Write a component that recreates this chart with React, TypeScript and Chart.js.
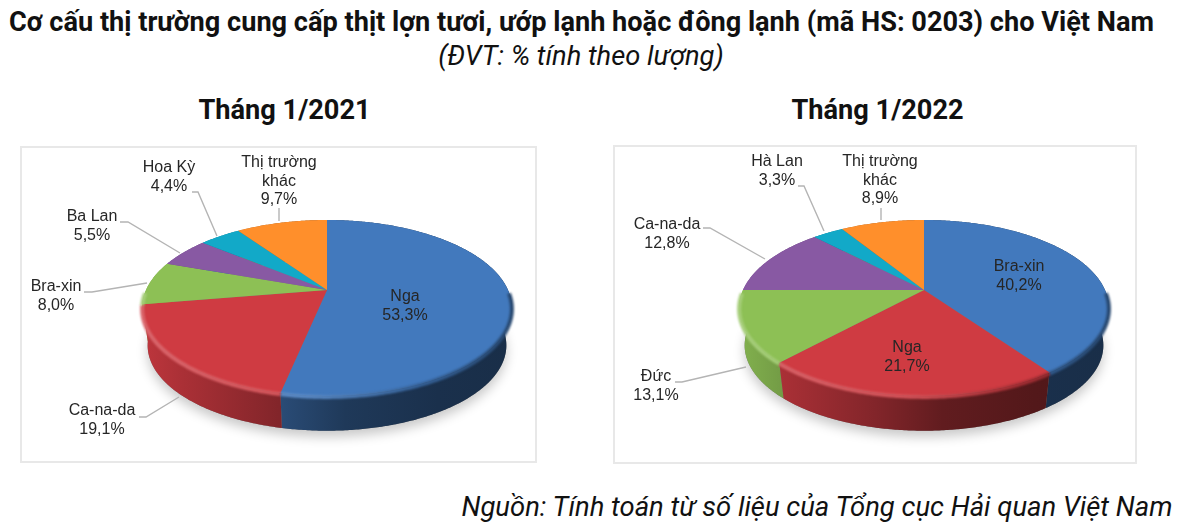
import { useEffect, useRef } from "react";
import Chart from "chart.js/auto";

const categories2021 = ["Nga", "Ca-na-da", "Bra-xin", "Ba Lan", "Hoa Kỳ", "Thị trường khác"];
const shares2021 = [53.3, 19.1, 8.0, 5.5, 4.4, 9.7];

const categories2022 = ["Bra-xin", "Nga", "Đức", "Ca-na-da", "Hà Lan", "Thị trường khác"];
const shares2022 = [40.2, 21.7, 13.1, 12.8, 3.3, 8.9];

const sliceColors = ["#4279BD", "#CF3B42", "#8DC055", "#8859A3", "#12A9C8", "#FF8F2B"];

// where the text labels sit, in page pixels (x centre, y centre of first line)
const labelSpots2021 = [[405, 297], [102, 411], [56, 287], [92, 217], [169, 168], [279, 163]];
const labelSpots2022 = [[1019, 267], [907, 348], [656, 377], [667, 225], [777, 162], [880, 162]];

const leaders2021 = [
  null,
  [[139, 417], [146, 417], [179, 397]],
  [[84, 292], [92, 292], [147, 283]],
  [[120, 222], [128, 222], [180, 253]],
  [[192, 192], [198, 192], [217, 236]],
  [[279, 208], [279, 221]],
];
const leaders2022 = [
  null,
  null,
  [[675, 382], [682, 382], [746, 367]],
  [[703, 228], [710, 228], [765, 259]],
  [[798, 186], [804, 186], [824, 231]],
  [[881, 208], [881, 220]],
];

// how the side of the pie darkens from left to right
const sideShade = [[0, 0.92], [0.11, 0.82], [0.37, 0.63], [0.55, 0.47], [0.8, 0.4], [1, 0.38]];

const TILT = 0.204; // perspective of the pie
const DEPTH = 38;
const SHRINK = 0.97;

const shade = (hex: string, f: number) => {
  const n = parseInt(hex.slice(1), 16);
  const c = [(n >> 16) & 255, (n >> 8) & 255, n & 255].map((v) =>
    f <= 1 ? Math.round(v * f) : Math.round(v + (255 - v) * (f - 1))
  );
  return `rgb(${c[0]},${c[1]},${c[2]})`;
};

const pie3d = (left: number, top: number, spots: number[][], leaders: any[]) => ({
  id: "pie3d",
  beforeDatasetsDraw(chart: any) {
    const { ctx } = chart;
    const arcs = chart.getDatasetMeta(0).data;
    const colors = chart.data.datasets[0].backgroundColor;
    const { x: cx, y: cy, outerRadius: r } = arcs[0];
    const A = (r * 181) / 120;
    const B = (r * 84.3) / 120;

    const topPt = (a: number) => {
      const w = 1 - TILT * Math.sin(a);
      return [cx + (A * Math.cos(a)) / w, cy + (B * Math.sin(a)) / w];
    };
    const lowPt = (a: number) => {
      const p = topPt(a);
      return [cx + (p[0] - cx) * SHRINK, cy + (p[1] - cy) * SHRINK + DEPTH];
    };
    const steps = (a0: number, a1: number) => {
      const n = Math.max(2, Math.ceil((a1 - a0) / 0.01));
      return Array.from({ length: n + 1 }, (_, i) => a0 + ((a1 - a0) * i) / n);
    };
    const widest = A / Math.sqrt(1 - TILT * TILT);
    const gradient = (color: string) => {
      const g = ctx.createLinearGradient(cx - widest, 0, cx + widest, 0);
      sideShade.forEach(([t, f]) => g.addColorStop(t, shade(color, f)));
      return g;
    };

    ctx.save();

    // soft shadow under the whole pie
    const ring = steps(0, Math.PI * 2);
    ctx.save();
    ctx.shadowColor = "rgba(0,0,0,0.22)";
    ctx.shadowBlur = 12;
    ctx.shadowOffsetY = 6;
    ctx.fillStyle = "#777";
    ctx.beginPath();
    ring.forEach((a, i) => {
      const p = lowPt(a);
      i ? ctx.lineTo(p[0], p[1]) : ctx.moveTo(p[0], p[1]);
    });
    ctx.fill();
    ctx.restore();

    // side walls, back to front
    const order = arcs
      .map((arc: any, i: number) => ({ arc, i }))
      .sort((p: any, q: any) => Math.sin((p.arc.startAngle + p.arc.endAngle) / 2) - Math.sin((q.arc.startAngle + q.arc.endAngle) / 2));
    order.forEach(({ arc, i }: any) => {
      const angles = steps(arc.startAngle, arc.endAngle);
      ctx.beginPath();
      angles.forEach((a, k) => {
        const p = topPt(a);
        k ? ctx.lineTo(p[0], p[1]) : ctx.moveTo(p[0], p[1]);
      });
      [...angles].reverse().forEach((a) => {
        const p = lowPt(a);
        ctx.lineTo(p[0], p[1]);
      });
      ctx.closePath();
      ctx.fillStyle = gradient(colors[i]);
      ctx.fill();
    });

    // top face
    arcs.forEach((arc: any, i: number) => {
      ctx.beginPath();
      ctx.moveTo(cx, cy);
      steps(arc.startAngle, arc.endAngle).forEach((a) => {
        const p = topPt(a);
        ctx.lineTo(p[0], p[1]);
      });
      ctx.closePath();
      ctx.fillStyle = colors[i];
      ctx.fill();
    });

    // bevel along the front edge
    arcs.forEach((arc: any, i: number) => {
      const g = ctx.createLinearGradient(cx - widest, 0, cx + widest, 0);
      g.addColorStop(0, shade(colors[i], 1.22));
      g.addColorStop(0.45, shade(colors[i], 1.12));
      g.addColorStop(0.75, shade(colors[i], 0.8));
      g.addColorStop(1, shade(colors[i], 0.6));
      ctx.save();
      ctx.filter = "blur(1.2px)";
      ctx.strokeStyle = g;
      ctx.lineWidth = 4;
      ctx.beginPath();
      let started = false;
      steps(arc.startAngle, arc.endAngle).forEach((a) => {
        if (Math.sin(a) < 0.02) return;
        const p = topPt(a);
        const q = [p[0], p[1] + 1];
        started ? ctx.lineTo(q[0], q[1]) : ctx.moveTo(q[0], q[1]);
        started = true;
      });
      ctx.stroke();
      ctx.restore();
    });

    // leader lines and text
    ctx.strokeStyle = "#b4b4b4";
    ctx.lineWidth = 1.4;
    leaders.forEach((line) => {
      if (!line) return;
      ctx.beginPath();
      line.forEach((p: number[], k: number) => {
        k ? ctx.lineTo(p[0] - left, p[1] - top) : ctx.moveTo(p[0] - left, p[1] - top);
      });
      ctx.stroke();
    });

    ctx.font = "16px 'Liberation Sans'";
    ctx.fillStyle = "#262626";
    ctx.textAlign = "center";
    ctx.textBaseline = "middle";
    chart.data.labels.forEach((name: string, i: number) => {
      const value = chart.data.datasets[0].data[i].toFixed(1).replace(".", ",") + "%";
      const lines = name === "Thị trường khác" ? ["Thị trường", "khác", value] : [name, value];
      lines.forEach((t, k) => ctx.fillText(t, spots[i][0] - left, spots[i][1] - top + k * 18.3));
    });

    ctx.restore();
    return false;
  },
});

type PanelProps = {
  left: number;
  top: number;
  width: number;
  height: number;
  apexX: number;
  apexY: number;
  categories: string[];
  values: number[];
  spots: number[][];
  leaders: any[];
};

const PiePanel = ({ left, top, width, height, apexX, apexY, categories, values, spots, leaders }: PanelProps) => {
  const canvasRef = useRef<HTMLCanvasElement | null>(null);

  useEffect(() => {
    if (!canvasRef.current) return;
    const px = apexX - left;
    const py = apexY - top;
    const chart = new Chart(canvasRef.current, {
      type: "pie",
      data: {
        labels: categories,
        datasets: [{ data: values, backgroundColor: sliceColors, borderWidth: 0 }],
      },
      options: {
        animation: false,
        responsive: false,
        events: [],
        layout: {
          padding: { left: px - 120, right: width - px - 120, top: py - 120, bottom: height - py - 120 },
        },
        plugins: { legend: { display: false }, tooltip: { enabled: false } },
      },
      plugins: [pie3d(left, top, spots, leaders)],
    });
    return () => chart.destroy();
  }, []);

  return (
    <div
      style={{
        position: "absolute",
        left,
        top,
        width,
        height,
        boxShadow: "inset 0 0 0 2px #e8e8e8",
      }}
    >
      <canvas ref={canvasRef} width={width} height={height} style={{ display: "block" }} />
    </div>
  );
};

const textStyle = (x: number, y: number, size: number, extra: object) => ({
  position: "absolute" as const,
  left: x,
  top: y,
  transform: "translate(-50%, -50%)",
  fontFamily: "Roboto",
  fontSize: size,
  lineHeight: 1,
  color: "#111",
  whiteSpace: "nowrap" as const,
  ...extra,
});

const App = () => {
  return (
    <div style={{ position: "absolute", left: 0, top: 0, width: 1200, height: 532, overflow: "hidden", background: "#fff" }}>
      <div style={textStyle(581.5, 22.5, 27.15, { fontWeight: 700 })}>
        Cơ cấu thị trường cung cấp thịt lợn tươi, ướp lạnh hoặc đông lạnh (mã HS: 0203) cho Việt Nam
      </div>
      <div style={textStyle(581, 56.5, 27.3, { fontStyle: "italic" })}>(ĐVT: % tính theo lượng)</div>
      <div style={textStyle(284.5, 110.5, 27.2, { fontWeight: 700 })}>Tháng 1/2021</div>
      <div style={textStyle(877.5, 110.5, 27.2, { fontWeight: 700 })}>Tháng 1/2022</div>
      <PiePanel
        left={20}
        top={146}
        width={517}
        height={317}
        apexX={327}
        apexY={290}
        categories={categories2021}
        values={shares2021}
        spots={labelSpots2021}
        leaders={leaders2021}
      />
      <PiePanel
        left={613}
        top={145}
        width={524}
        height={319}
        apexX={924}
        apexY={290}
        categories={categories2022}
        values={shares2022}
        spots={labelSpots2022}
        leaders={leaders2022}
      />
      <div style={textStyle(817, 507.5, 27.4, { fontStyle: "italic" })}>Nguồn: Tính toán từ số liệu của Tổng cục Hải quan Việt Nam</div>
    </div>
  );
};

export default App;
